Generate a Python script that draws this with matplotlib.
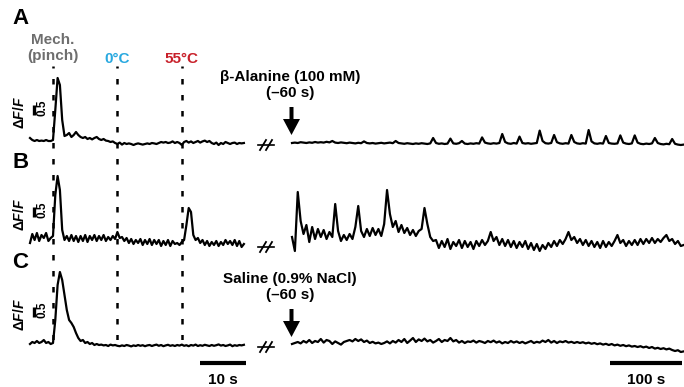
#Import libraries
import numpy as np
import matplotlib
matplotlib.use("Agg")
import matplotlib.pyplot as plt

plt.rcParams['font.family'] = ['Liberation Sans', 'DejaVu Sans']
plt.rcParams['mathtext.fontset'] = 'custom'
plt.rcParams['mathtext.it'] = 'Liberation Sans:italic:bold'
plt.rcParams['mathtext.rm'] = 'Liberation Sans:bold'

#Sampling of the traces
dt_short = 0.5   # s, stimulus part
dt_long = 4.0    # s, drug part

#Stimulus times (s) in the short recording
stim_times = [5, 19, 33]
stim_names = ['Mech.\n(pinch)', '0°C', '55°C']
stim_colors = ['#6e6e6e', '#29a9e0', '#c8202a']

#dF/F traces, stimulus part (A, B, C)
a_short = [0.35, 0.25, 0.2, 0.25, 0.2, 0.22, 0.2, 0.25, 0.2, 0.2,
           0.25, 1.75, 3.35, 3.0, 1.25, 0.45, 0.5, 0.6, 0.4, 0.5,
           0.65, 0.5, 0.4, 0.35, 0.4, 0.3, 0.35, 0.28, 0.35, 0.4,
           0.3, 0.25, 0.3, 0.22, 0.2, 0.15, 0.18, 0.1, 0.05, 0.12,
           0.02, 0.1, 0.05, 0.08, 0.05, 0.0, 0.05, 0.08, 0.05, 0.02,
           0.05, 0.08, 0.05, 0.1, 0.08, 0.05, 0.1, 0.15, 0.12, 0.15,
           0.1, 0.12, 0.18, 0.1, 0.15, 0.1, 0.0, 0.15, 0.2, 0.12,
           0.18, 0.1, 0.15, 0.2, 0.12, 0.18, 0.22, 0.15, 0.2, 0.1,
           0.05, 0.12, 0.0, 0.1, 0.05, 0.15, 0.1, 0.05, 0.1, 0.12,
           0.05, 0.1, 0.08, 0.1]
b_short = [0.2, 0.65, 0.35, 0.7, 0.3, 0.6, 0.45, 0.7, 0.3, 0.45,
           0.55, 2.6, 3.55, 2.85, 0.85, 0.35, 0.55, 0.3, 0.6, 0.3,
           0.55, 0.25, 0.55, 0.3, 0.6, 0.25, 0.55, 0.35, 0.6, 0.3,
           0.55, 0.35, 0.6, 0.3, 0.5, 0.35, 0.55, 0.4, 0.75, 0.45,
           0.5, 0.3, 0.45, 0.2, 0.4, 0.15, 0.35, 0.2, 0.4, 0.1,
           0.35, 0.15, 0.4, 0.1, 0.35, 0.15, 0.35, 0.05, 0.3, 0.1,
           0.35, 0.05, 0.3, 0.15, 0.2, 0.1, 0.25, 0.35, 1.1, 1.95,
           1.75, 0.6, 0.35, 0.45, 0.2, 0.35, 0.1, 0.3, 0.05, 0.25,
           0.1, 0.3, 0.05, 0.25, 0.1, 0.35, 0.15, 0.3, 0.1, 0.35,
           0.05, 0.3, 0.0, 0.15]
c_short = [0.15, 0.25, 0.2, 0.3, 0.2, 0.25, 0.35, 0.2, 0.25, 0.15,
           0.2, 1.35, 3.1, 3.75, 3.35, 2.6, 1.85, 1.35, 1.2, 1.0,
           0.7, 0.45, 0.3, 0.35, 0.2, 0.25, 0.15, 0.2, 0.1, 0.15,
           0.1, 0.12, 0.08, 0.1, 0.05, 0.12, 0.08, 0.1, 0.06, 0.04,
           0.08, 0.05, 0.1, 0.07, 0.03, 0.08, 0.05, 0.1, 0.06, 0.09,
           0.04, 0.08, 0.1, 0.05, 0.09, 0.12, 0.06, 0.1, 0.04, 0.08,
           0.11, 0.06, 0.09, 0.05, 0.1, 0.07, 0.12, 0.06, 0.09, 0.04,
           0.1, 0.07, 0.12, 0.05, 0.09, 0.06, 0.11, 0.08, 0.05, 0.1,
           0.06, 0.09, 0.13, 0.07, 0.1, 0.05, 0.08, 0.12, 0.04, 0.09,
           0.06, 0.1, 0.08, 0.11]

#dF/F traces after drug application (A: beta-alanine, B: beta-alanine, C: saline)
a_long = [0.1, 0.12, 0.1, 0.14, 0.12, 0.1, 0.13, 0.11, 0.15, 0.12,
          0.14, 0.12, 0.16, 0.13, 0.2, 0.12, 0.1, 0.13, 0.11, 0.09,
          0.12, 0.1, 0.08, 0.11, 0.09, 0.18, 0.1, 0.08, 0.1, 0.07,
          0.09, 0.11, 0.08, 0.1, 0.12, 0.09, 0.2, 0.1, 0.08, 0.06,
          0.09, 0.07, 0.05, 0.08, 0.06, 0.09, 0.07, 0.05, 0.08, 0.35,
          0.1, 0.06, 0.08, 0.05, 0.07, 0.32, 0.08, 0.06, 0.09, 0.2,
          0.07, 0.05, 0.08, 0.06, 0.09, 0.07, 0.38, 0.12, 0.08, 0.06,
          0.09, 0.07, 0.1, 0.55, 0.15, 0.08, 0.06, 0.1, 0.07, 0.42,
          0.1, 0.07, 0.09, 0.06, 0.08, 0.1, 0.72, 0.2, 0.09, 0.07,
          0.1, 0.5, 0.14, 0.08, 0.06, 0.09, 0.07, 0.5, 0.15, 0.08,
          0.06, 0.09, 0.07, 0.75, 0.18, 0.08, 0.06, 0.09, 0.07, 0.45,
          0.1, 0.07, 0.06, 0.08, 0.48, 0.12, 0.07, 0.05, 0.08, 0.48,
          0.12, 0.06, 0.04, 0.07, 0.05, 0.08, 0.35, 0.1, 0.05, 0.03,
          0.06, 0.04, 0.3, 0.06, 0.02, 0.0, 0.02]
b_long = [0.5, -0.2, 2.75, 1.3, 0.65, 1.1, 0.25, 1.0, 0.4, 0.9,
          0.5, 0.85, 0.4, 0.75, 0.5, 2.15, 0.8, 0.3, 0.6, 0.35,
          0.65, 0.4, 1.0, 2.05, 0.8, 0.5, 0.9, 0.55, 0.95, 0.6,
          0.9, 0.55, 1.15, 2.85, 1.65, 1.0, 1.3, 0.75, 1.1, 0.7,
          0.95, 0.6, 0.85, 0.55, 0.8, 0.9, 1.95, 1.15, 0.5, 0.3,
          0.35, -0.05, 0.3, 0.0, 0.4, -0.1, 0.25, 0.05, 0.35, -0.05,
          0.3, 0.0, 0.25, -0.1, 0.3, 0.05, 0.35, 0.1, 0.3, 0.75,
          0.3, 0.5, 0.1, 0.4, 0.05, 0.35, 0.0, 0.3, -0.05, 0.25,
          0.0, 0.3, -0.1, 0.2, -0.15, 0.15, -0.2, 0.1, -0.1, 0.2,
          0.0, 0.3, 0.05, 0.35, 0.15, 0.4, 0.75, 0.35, 0.5, 0.2,
          0.4, 0.1, 0.35, 0.05, 0.3, 0.0, 0.25, -0.05, 0.3, 0.0,
          0.25, 0.05, 0.3, 0.6, 0.2, 0.35, 0.05, 0.3, 0.1, 0.35,
          0.1, 0.4, 0.15, 0.4, 0.2, 0.45, 0.2, 0.4, 0.25, 0.45,
          0.6, 0.3, 0.4, 0.15, 0.3, 0.05, 0.1]
c_long = [0.15, 0.2, 0.25, 0.18, 0.3, 0.22, 0.35, 0.2, 0.3, 0.25,
          0.4, 0.22, 0.35, 0.3, 0.15, 0.28, 0.2, 0.12, 0.25, 0.3,
          0.35, 0.28, 0.4, 0.3, 0.38, 0.25, 0.32, 0.2, 0.26, 0.18,
          0.22, 0.15, 0.2, 0.28, 0.18, 0.3, 0.22, 0.35, 0.25, 0.4,
          0.2, 0.32, 0.45, 0.25, 0.38, 0.3, 0.42, 0.28, 0.35, 0.22,
          0.3, 0.4, 0.25, 0.35, 0.3, 0.45, 0.28, 0.35, 0.22, 0.3,
          0.2, 0.28, 0.25, 0.32, 0.22, 0.3, 0.26, 0.2, 0.3, 0.24,
          0.32, 0.22, 0.28, 0.18, 0.25, 0.2, 0.3, 0.22, 0.28, 0.2,
          0.26, 0.18, 0.24, 0.3, 0.2, 0.26, 0.22, 0.32, 0.25, 0.35,
          0.22, 0.3, 0.2, 0.28, 0.24, 0.3, 0.22, 0.26, 0.2, 0.25,
          0.2, 0.24, 0.18, 0.22, 0.16, 0.2, 0.14, 0.18, 0.12, 0.16,
          0.1, 0.15, 0.08, 0.12, 0.06, 0.1, 0.04, 0.08, 0.02, 0.05,
          0.0, 0.04, -0.02, 0.02, -0.05, 0.0, -0.08, -0.04, -0.1, -0.06,
          -0.12, -0.08, -0.15, -0.2, -0.16, -0.25, -0.22]

panel_letters = ['A', 'B', 'C']
drug_labels = ['β-Alanine (100 mM)\n(–60 s)', None, 'Saline (0.9% NaCl)\n(–60 s)']

#Layout in pixels
W, H = 684, 387
px_per_unit = 20.0          # dF/F = 1
px_per_s_short = 4.6
px_per_s_long = 0.72
baselines = [145, 247, 347]  # pixel row of dF/F = 0 for each panel
x0_short, w_short = 30, 217
x0_long, w_long = 292, 392

fig = plt.figure(figsize=(W / 100, H / 100), dpi=100)

def panel_axes(x0, w, base, px_per_s):
    ax = fig.add_axes([x0 / W, 1 - (base + 20) / H, w / W, 100 / H])
    ax.set_xlim(0, w / px_per_s)
    ax.set_ylim(-20 / px_per_unit, 80 / px_per_unit)
    ax.axis('off')
    return ax

shorts = [a_short, b_short, c_short]
longs = [a_long, b_long, c_long]
lw = 1.6
short_axes = []
long_axes = []
for i in range(3):
    axs = panel_axes(x0_short, w_short, baselines[i], px_per_s_short)
    t = np.arange(len(shorts[i])) * dt_short
    axs.plot(t, shorts[i], color='k', lw=lw, clip_on=False, solid_joinstyle='round')
    # 0.5 dF/F scale bar
    axs.plot([0.9, 0.9], [1.5, 2.0], color='k', lw=2.4, solid_capstyle='butt', clip_on=False)
    short_axes.append(axs)

    axl = panel_axes(x0_long, w_long, baselines[i], px_per_s_long)
    t = np.arange(len(longs[i])) * dt_long
    axl.plot(t, longs[i], color='k', lw=lw, clip_on=False, solid_joinstyle='round')
    long_axes.append(axl)

#Time scale bars
tmax_s = (246 - x0_short) / px_per_s_short
short_axes[2].plot([tmax_s - 10, tmax_s], [-0.8, -0.8], color='k', lw=3,
                   solid_capstyle='butt', clip_on=False)
tmax_l = (682 - x0_long) / px_per_s_long
long_axes[2].plot([tmax_l - 100, tmax_l], [-0.8, -0.8], color='k', lw=3,
                  solid_capstyle='butt', clip_on=False)

#Stimulus dotted lines across all panels
ax_st = fig.add_axes([x0_short / W, 1 - 340 / H, w_short / W, (340 - 66) / H])
ax_st.set_xlim(0, w_short / px_per_s_short)
ax_st.set_ylim(0, 1)
ax_st.axis('off')
for ts in stim_times:
    ax_st.axvline(ts, color='k', lw=1.8, ls=(0, (2.2, 4.2)))

#Overlay in pixel coordinates for labels and symbols
ov = fig.add_axes([0, 0, 1, 1])
ov.set_xlim(0, W)
ov.set_ylim(H, 0)
ov.axis('off')

for i, letter in enumerate(panel_letters):
    base = baselines[i]
    ov.text(12, base - 127 if i == 0 else base - 85, letter, fontsize=16,
            fontweight='bold', ha='left', va='center')
    ov.text(20, base - 33, r'$\Delta\mathit{F/F}$', fontsize=10, rotation=90,
            ha='center', va='center')
    ov.text(43, base - 37, '0.5', fontsize=8.5, fontweight='bold', rotation=90,
            ha='center', va='center')
    # axis break marks
    ov.plot([258, 274], [base, base], color='k', lw=1.2)
    for xb in (263, 269):
        ov.plot([xb - 3, xb + 3], [base + 5, base - 5], color='k', lw=1.3)

for ts, name, col in zip(stim_times, stim_names, stim_colors):
    xs = x0_short + ts * px_per_s_short
    ov.text(xs, 48 if '\n' in name else 59, name, color=col, fontsize=11,
            fontweight='bold', ha='center', va='center', linespacing=1.1)

for i, lab in enumerate(drug_labels):
    if lab is None:
        continue
    base = baselines[i]
    ov.text(290, base - 60, lab, fontsize=11, fontweight='bold',
            ha='center', va='center', linespacing=1.2)
    ov.arrow(291.5, base - 38, 0, 28, width=4, head_width=17, head_length=16,
             length_includes_head=True, color='k', lw=0)

ov.text(223, 380, '10 s', fontsize=11, fontweight='bold', ha='center', va='center')
ov.text(646, 380, '100 s', fontsize=11, fontweight='bold', ha='center', va='center')

fig.savefig('out.png', dpi=100)
